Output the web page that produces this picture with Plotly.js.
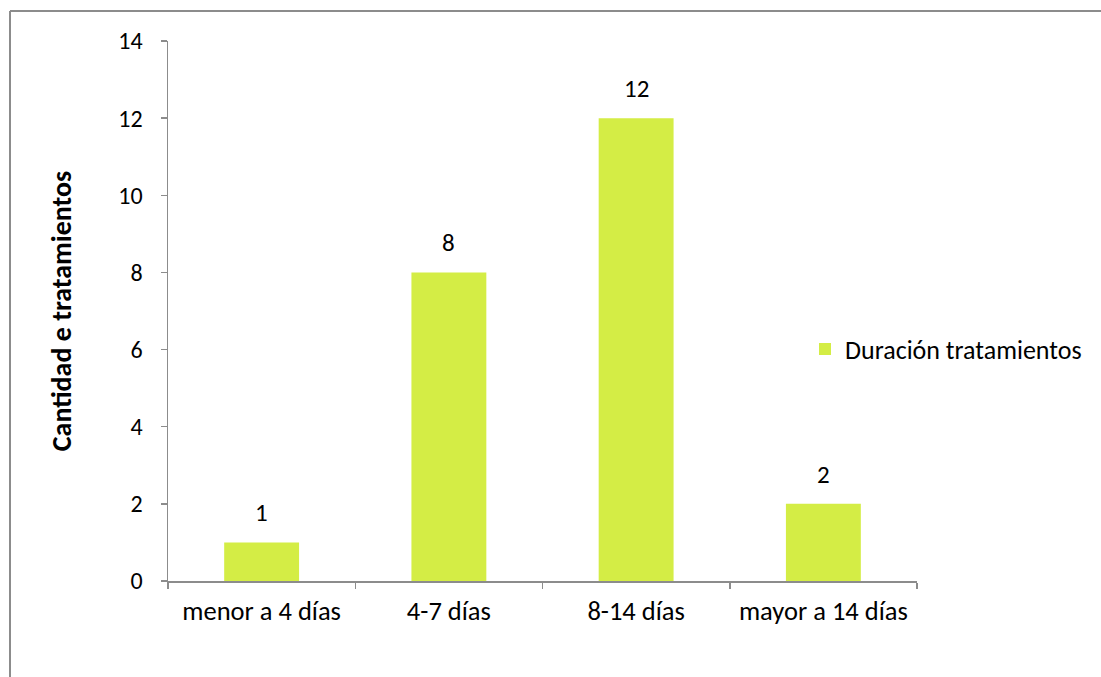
<!DOCTYPE html>
<html><head><meta charset="utf-8">
<script src="https://cdn.plot.ly/plotly-3.0.1.min.js"></script>
<style>html,body{margin:0;padding:0;background:#fff;}#chart{width:1101px;height:677px;}</style>
</head><body><div id="chart"></div>
<script>
const categories = ["menor a 4 días", "4-7 días", "8-14 días", "mayor a 14 días"];
const values = [1, 8, 12, 2];
const seriesName = "Duración tratamientos";
const yTicks = [0, 2, 4, 6, 8, 10, 12, 14];

const W = 1101, H = 677, L = 168, R = 184, T = 41, B = 96;
const pw = W - L - R, ph = H - T - B;
const px = v => (v - L) / pw;
const py = v => (H - B - v) / ph;

const fontFam = "Carlito, Calibri, 'Open Sans', 'Noto Sans', sans-serif";
const trace = {
  type: "bar", x: categories, y: values, name: seriesName,
  marker: {color: "#d4ed45"},
  cliponaxis: false, showlegend: true, hoverinfo: "none"
};
const annotations = categories.map((c, i) => ({
  x: c, y: values[i], xref: "x", yref: "y", text: String(values[i]),
  showarrow: false, yanchor: "bottom", yshift: 12,
  font: {family: fontFam, size: 25, color: "#000"}
}));
const layout = {
  width: W, height: H,
  margin: {l: L, r: R, t: T, b: B, autoexpand: false},
  paper_bgcolor: "#fff", plot_bgcolor: "#fff",
  font: {family: fontFam, size: 24, color: "#000"},
  bargap: 0.6,
  showlegend: true,
  legend: {x: px(805), y: py(349), xanchor: "left", yanchor: "middle", font: {size: 26}, itemwidth: 30},
  xaxis: {
    type: "category", showline: true, linecolor: "#8c8c8c", linewidth: 1.5,
    ticks: "outside", tickson: "boundaries", ticklen: 6, tickcolor: "#8c8c8c", tickwidth: 1.5,
    showgrid: false, tickfont: {size: 26.5}, fixedrange: true, ticklabelstandoff: 6
  },
  yaxis: {
    range: [0, 14], tickvals: yTicks, showline: true, linecolor: "#8c8c8c", linewidth: 1.5,
    ticks: "outside", ticklen: 6, tickcolor: "#8c8c8c", tickwidth: 1.5,
    showgrid: false, zeroline: false, tickfont: {size: 24}, ticklabelstandoff: 13,
    title: {text: "<b>Cantidad e tratamientos</b>", font: {size: 28}, standoff: 38}
  },
  annotations: annotations,
  shapes: [
    {type: "line", xref: "paper", yref: "paper", x0: px(10), x1: px(1101), y0: py(11), y1: py(11), line: {color: "#8c8c8c", width: 2}},
    {type: "line", xref: "paper", yref: "paper", x0: px(10), x1: px(10), y0: py(11), y1: py(677), line: {color: "#8c8c8c", width: 2}}
  ]
};
Plotly.newPlot("chart", [trace], layout, {displayModeBar: false, staticPlot: true});
</script></body></html>
